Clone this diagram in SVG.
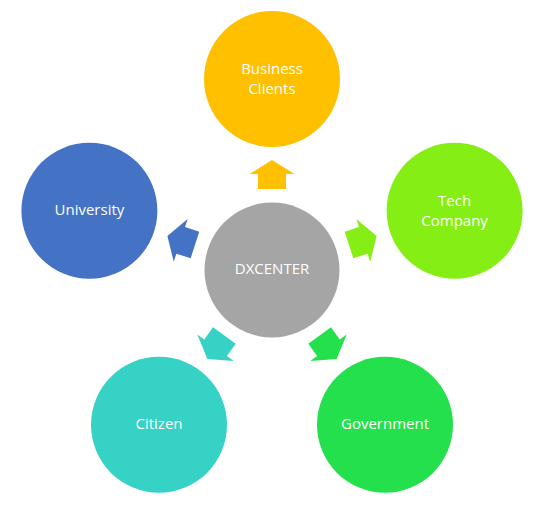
<svg xmlns="http://www.w3.org/2000/svg" width="549" height="506" viewBox="0 0 549 506">
<style>
text{font-family:"Open Sans","Noto Sans","Liberation Sans",sans-serif;font-size:15px;fill:#fff;text-anchor:middle;dominant-baseline:central}
</style>
<defs>
<polygon id="arr" points="272,160 294.5,174 286,174 286,189 258,189 258,174 249.5,174"/>
</defs>
<rect width="549" height="506" fill="#fff"/>
<g id="connectors">
<use href="#arr" fill="#FFC000"/>
<use href="#arr" fill="#84EE15" transform="rotate(72 272 270)"/>
<use href="#arr" fill="#24E04C" transform="rotate(144 272 270)"/>
<use href="#arr" fill="#36D2C6" transform="rotate(216 272 270)"/>
<use href="#arr" fill="#4472C4" transform="rotate(288 272 270)"/>
</g>
<g id="center"><circle cx="272" cy="270" r="67.5" fill="#A5A5A5"/><text x="272" y="268" font-size="14">DXCENTER</text></g>
<g id="business"><circle cx="272" cy="79" r="68" fill="#FFC000"/><text x="272" y="68">Business</text><text x="272" y="88">Clients</text></g>
<g id="tech"><circle cx="454.6" cy="210.7" r="68" fill="#84EE15"/><text x="454.6" y="199.5">Tech</text><text x="454.6" y="219.5">Company</text></g>
<g id="government"><circle cx="385" cy="424.8" r="68" fill="#24E04C"/><text x="385" y="422.5">Government</text></g>
<g id="citizen"><circle cx="159" cy="424.8" r="68" fill="#36D2C6"/><text x="159" y="423">Citizen</text></g>
<g id="university"><circle cx="89.4" cy="210.7" r="68" fill="#4472C4"/><text x="89.4" y="209">University</text></g>
</svg>
